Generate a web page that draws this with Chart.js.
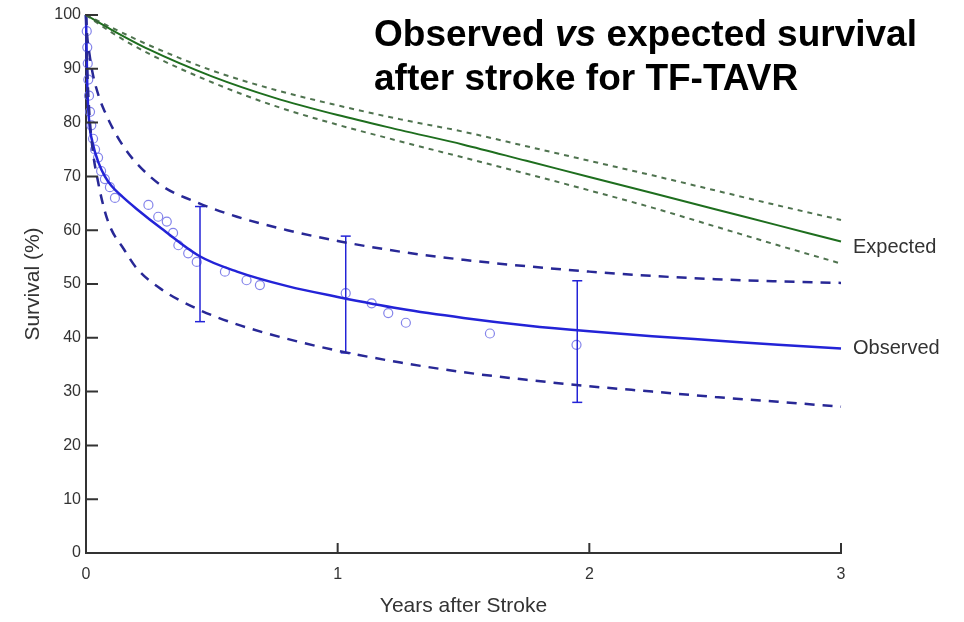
<!DOCTYPE html>
<html>
<head>
<meta charset="utf-8">
<script src="https://cdn.jsdelivr.net/npm/chart.js@4"></script>
<style>
  html, body { margin: 0; padding: 0; background: #fff; }
  #wrap { width: 964px; height: 622px; }
</style>
</head>
<body>
<div id="wrap"><canvas id="survChart" width="964" height="622"></canvas></div>
<script>
// time grid (years) for the observed curves
const obsYears = [0, 0.005, 0.013, 0.025, 0.05, 0.075, 0.1, 0.15, 0.2, 0.3, 0.45, 0.6, 0.8, 1.0, 1.25, 1.5, 1.75, 2.0, 2.25, 2.5, 2.75, 3.0];
const observed = [100, 87, 80, 76.5, 72.5, 70, 68.3, 66, 64, 60.3, 55.2, 52.3, 49.6, 47.6, 45.4, 43.7, 42.3, 41.2, 40.3, 39.5, 38.7, 38.0];
const observedHi = [100, 96, 93, 89.5, 85, 82, 79.5, 75.5, 72.5, 68.3, 65, 62.5, 60, 58, 56, 54.5, 53.3, 52.3, 51.5, 50.9, 50.5, 50.2];
const observedLo = [100, 90, 82, 75.5, 68.5, 63.5, 60.2, 56.5, 53, 49, 45.2, 42.5, 39.8, 37.6, 35.4, 33.6, 32.2, 31.0, 30.0, 29.0, 28.1, 27.2];

// expected (matched population)
const expYears = [0, 0.1, 0.25, 0.5, 0.75, 1, 1.25, 1.5, 1.75, 2, 2.25, 2.5, 2.75, 3];
const expected = [100, 97.3, 93.6, 88.6, 84.6, 81.4, 78.6, 75.9, 72.9, 69.9, 66.9, 63.9, 60.9, 57.9];
const expectedHi = [100, 97.7, 94.4, 89.7, 86.1, 83.2, 80.6, 78.3, 75.6, 72.9, 70.2, 67.4, 64.6, 61.9];
const expectedLo = [100, 96.8, 92.8, 87.5, 83.1, 79.6, 76.5, 73.5, 70.5, 67.4, 64.2, 60.7, 57.2, 53.8];

// Kaplan-Meier points
const kmYears = [0.003, 0.005, 0.007, 0.009, 0.012, 0.016, 0.021, 0.028, 0.036, 0.048, 0.06, 0.075, 0.095, 0.115,
                 0.248, 0.287, 0.321, 0.346, 0.367, 0.406, 0.44, 0.552, 0.638, 0.691,
                 1.032, 1.135, 1.201, 1.271, 1.605, 1.949];
const kmSurv = [97, 94, 91, 88, 85, 82, 79.5, 77, 75, 73.5, 71, 69.5, 68, 66,
                64.7, 62.5, 61.6, 59.5, 57.2, 55.7, 54.1, 52.3, 50.7, 49.8,
                48.3, 46.4, 44.6, 42.8, 40.8, 38.7];

// error bars
const errYears = [0.453, 1.032, 1.952];
const errLo = [43.0, 37.2, 28.0];
const errHi = [64.4, 58.9, 50.6];

const xTicks = [0, 1, 2, 3];
const yTicks = [0, 10, 20, 30, 40, 50, 60, 70, 80, 90, 100];

const BLUE = "rgb(35,35,215)";
const NAVY = "rgb(40,40,150)";
const GREEN = "rgb(30,110,30)";
const GREEN_DASH = "rgba(60,100,60,0.9)";
const FONT = "'Liberation Sans', Arial, sans-serif";

const pts = (xs, ys) => xs.map((x, i) => ({ x: x, y: ys[i] }));

function curve(xs, ys, color, width, dash) {
    return {
        type: "line",
        data: pts(xs, ys),
        borderColor: color,
        borderWidth: width,
        borderDash: dash || [],
        pointRadius: 0,
        cubicInterpolationMode: "monotone",
        fill: false,
        clip: false
    };
}

const errorBars = errYears.map((t, i) => ({
    type: "line",
    data: [{ x: t, y: errLo[i] }, { x: t, y: errHi[i] }],
    borderColor: BLUE,
    borderWidth: 1.5,
    pointStyle: "line",
    pointRadius: 5,
    pointBorderColor: BLUE,
    pointBorderWidth: 1.5,
    clip: false
}));

const overlay = {
    id: "overlay",
    afterDraw(chart) {
        const c = chart.ctx;
        const xs = chart.scales.x, ys = chart.scales.y;
        const area = chart.chartArea;
        c.save();
        // inward tick marks
        c.strokeStyle = "#333";
        c.lineWidth = 2;
        c.beginPath();
        yTicks.forEach(v => {
            const py = ys.getPixelForValue(v);
            c.moveTo(area.left, py);
            c.lineTo(area.left + 12, py);
        });
        xTicks.forEach(v => {
            const px = xs.getPixelForValue(v);
            c.moveTo(px, area.bottom);
            c.lineTo(px, area.bottom - 10);
        });
        c.stroke();

        // curve labels
        c.fillStyle = "#333";
        c.font = "20px " + FONT;
        c.textBaseline = "middle";
        c.textAlign = "left";
        const xEnd = xs.getPixelForValue(3) + 12;
        c.fillText("Expected", xEnd, ys.getPixelForValue(expected[expected.length - 1]) + 6);
        c.fillText("Observed", xEnd, ys.getPixelForValue(observed[observed.length - 1]));

        // title
        c.fillStyle = "#000";
        c.textBaseline = "alphabetic";
        let x = 374;
        c.font = "bold 37px " + FONT;
        c.fillText("Observed ", x, 46);
        x += c.measureText("Observed ").width;
        c.font = "italic bold 37px " + FONT;
        c.fillText("vs", x, 46);
        x += c.measureText("vs").width;
        c.font = "bold 37px " + FONT;
        c.fillText(" expected survival", x, 46);
        c.fillText("after stroke for TF-TAVR", 374, 90);
        c.restore();
    }
};

new Chart(document.getElementById("survChart"), {
    data: {
        datasets: [
            curve(expYears, expectedHi, GREEN_DASH, 2, [5, 5]),
            curve(expYears, expectedLo, GREEN_DASH, 2, [5, 5]),
            curve(expYears, expected, GREEN, 2),
            curve(obsYears, observedHi, NAVY, 2.5, [10, 8]),
            curve(obsYears, observedLo, NAVY, 2.5, [10, 8]),
            curve(obsYears, observed, BLUE, 2.5),
            ...errorBars,
            {
                type: "scatter",
                data: pts(kmYears, kmSurv),
                pointStyle: "circle",
                pointRadius: 4.5,
                borderColor: "rgba(110,110,230,0.85)",
                backgroundColor: "rgba(0,0,0,0)",
                borderWidth: 1.2,
                clip: false
            }
        ]
    },
    options: {
        responsive: false,
        animation: false,
        devicePixelRatio: 1,
        layout: { padding: { left: 0, top: 15, right: 123, bottom: 0 } },
        plugins: { legend: { display: false }, tooltip: { enabled: false } },
        scales: {
            x: {
                type: "linear",
                min: 0,
                max: 3,
                afterFit: s => { s.height = 69; },
                afterBuildTicks: s => { s.ticks = xTicks.map(v => ({ value: v })); },
                grid: { drawOnChartArea: false, drawTicks: false },
                border: { display: true, color: "#333", width: 2 },
                ticks: { color: "#333", font: { family: FONT, size: 16 }, padding: 12 },
                title: { display: true, text: "Years after Stroke", color: "#333",
                         font: { family: FONT, size: 21 }, padding: { top: 0, bottom: 3 } }
            },
            y: {
                type: "linear",
                min: 0,
                max: 100,
                afterFit: s => { s.width = 86; },
                afterBuildTicks: s => { s.ticks = yTicks.map(v => ({ value: v })); },
                grid: { drawOnChartArea: false, drawTicks: false },
                border: { display: true, color: "#333", width: 2 },
                ticks: { color: "#333", font: { family: FONT, size: 16 }, padding: 5 },
                title: { display: true, text: "Survival (%)", color: "#333",
                         font: { family: FONT, size: 21 }, padding: { top: 21, bottom: 0 } }
            }
        }
    },
    plugins: [overlay]
});
</script>
</body>
</html>
